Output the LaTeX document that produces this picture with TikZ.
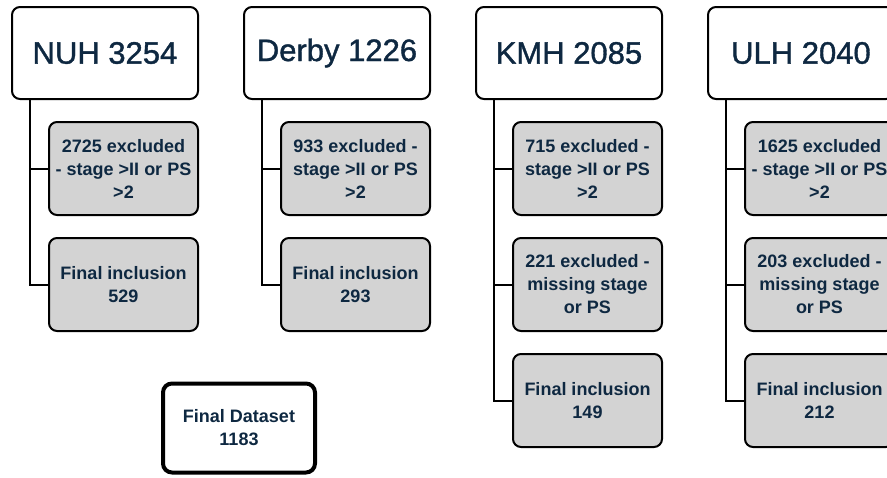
\documentclass[tikz,border=0pt]{standalone}
\usepackage{fontspec}
\setmainfont{Liberation Sans}
\newfontfamily\headfont[FakeBold=1.2]{Liberation Sans}
\usetikzlibrary{positioning}
\definecolor{navy}{HTML}{0E2841}
\definecolor{boxgray}{HTML}{D3D3D3}

\begin{document}
\begin{tikzpicture}[
		x=1pt, y=-1pt,
		node distance = 21pt and 44pt,
		site/.style = {draw, rectangle, rounded corners=8pt, line width=2pt, minimum width=186pt, minimum height=92pt, fill=white, text=navy, font=\headfont\fontsize{31}{36}\selectfont},
		crit/.style = {draw, rectangle, rounded corners=8pt, line width=2pt, minimum width=149pt, minimum height=93pt, inner sep=2pt, align=center, fill=boxgray, text=navy, font=\fontsize{18}{23}\selectfont\bfseries},
		total/.style = {draw, rectangle, rounded corners=9pt, line width=4pt, minimum width=152pt, minimum height=89pt, align=center, fill=white, text=navy, font=\fontsize{18}{23}\selectfont\bfseries},
		link/.style = {line width=2pt}
		]
		
		\clip (0,0) rectangle (887,477);
		
		\node [site] (nuh) at (105,53) {NUH 3254};
		\node [site, right=of nuh] (derby) {Derby 1226};
		\node [site, right=of derby] (kmh) {KMH 2085};
		\node [site, right=of kmh] (ulh) {ULH 2040};
		
		\node [crit, below left=21pt and 0pt of nuh.south east] (nuhA) {2725 excluded\\- stage >II or PS\\>2};
		\node [crit, below=of nuhA] (nuhB) {Final inclusion\\529};
		
		\node [crit, below left=21pt and 0pt of derby.south east] (derbyA) {933 excluded -\\stage >II or PS\\>2};
		\node [crit, below=of derbyA] (derbyB) {Final inclusion\\293};
		
		\node [crit, below left=21pt and 0pt of kmh.south east] (kmhA) {715 excluded -\\stage >II or PS\\>2};
		\node [crit, below=of kmhA] (kmhB) {221 excluded -\\missing stage\\or PS};
		\node [crit, below=of kmhB] (kmhC) {Final inclusion\\149};
		
		\node [crit, below left=21pt and 0pt of ulh.south east] (ulhA) {1625 excluded\\- stage >II or PS\\>2};
		\node [crit, below=of ulhA] (ulhB) {203 excluded -\\missing stage\\or PS};
		\node [crit, below=of ulhB] (ulhC) {Final inclusion\\212};
		
		\node [total] (final) at (239,428) {Final Dataset\\1183};
		
		\draw [link] ([xshift=19pt]nuh.south west) |- (nuhB.west);
		\draw [link] ([xshift=19pt]nuh.south west) |- (nuhA.west);
		
		\draw [link] ([xshift=19pt]derby.south west) |- (derbyB.west);
		\draw [link] ([xshift=19pt]derby.south west) |- (derbyA.west);
		
		\draw [link] ([xshift=19pt]kmh.south west) |- (kmhC.west);
		\draw [link] ([xshift=19pt]kmh.south west) |- (kmhB.west);
		\draw [link] ([xshift=19pt]kmh.south west) |- (kmhA.west);
		
		\draw [link] ([xshift=19pt]ulh.south west) |- (ulhC.west);
		\draw [link] ([xshift=19pt]ulh.south west) |- (ulhB.west);
		\draw [link] ([xshift=19pt]ulh.south west) |- (ulhA.west);
		
	\end{tikzpicture}
\end{document}
